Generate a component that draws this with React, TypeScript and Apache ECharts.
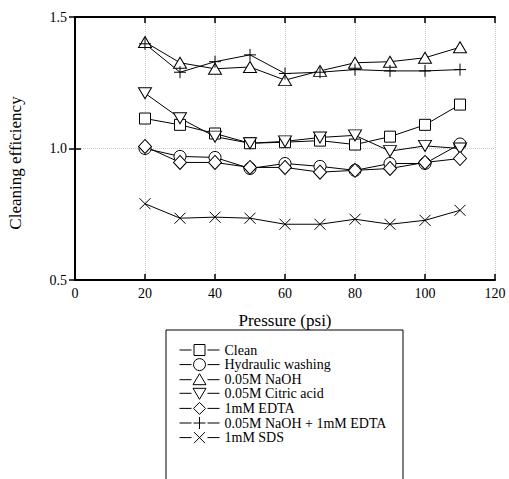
import React, { useEffect, useRef } from "react";
import * as echarts from "echarts";

const pressure = [20, 30, 40, 50, 60, 70, 80, 90, 100, 110];
const clean = [1.114, 1.09, 1.057, 1.02, 1.024, 1.03, 1.015, 1.045, 1.09, 1.167];
const hydraulic = [1.0, 0.97, 0.966, 0.924, 0.943, 0.932, 0.917, 0.943, 0.943, 1.017];
const naoh = [1.405, 1.326, 1.303, 1.31, 1.26, 1.295, 1.326, 1.33, 1.345, 1.385];
const citric = [1.21, 1.115, 1.045, 1.02, 1.027, 1.042, 1.05, 0.99, 1.01, 1.0];
const edta = [1.008, 0.947, 0.947, 0.928, 0.928, 0.91, 0.917, 0.924, 0.947, 0.962];
const naohEdta = [1.398, 1.29, 1.33, 1.356, 1.285, 1.29, 1.3, 1.295, 1.295, 1.3];
const sds = [0.79, 0.735, 0.739, 0.735, 0.712, 0.712, 0.731, 0.712, 0.727, 0.765];

const seriesNames = [
  "Clean",
  "Hydraulic washing",
  "0.05M NaOH",
  "0.05M Citric acid",
  "1mM EDTA",
  "0.05M NaOH + 1mM EDTA",
  "1mM SDS",
];
const seriesValues = [clean, hydraulic, naoh, citric, edta, naohEdta, sds];
const xTicks = [0, 120, 20];
const yTicks = [0.5, 1.5, 0.5];

const FONT = "'Liberation Serif', 'Times New Roman', serif";

// chart markers
const symbols: [string, number | number[]][] = [
  ["rect", 11],
  ["circle", 12],
  ["path://M5,0L10,9L0,9Z", [13, 11]],
  ["path://M0,0L10,0L5,9Z", [13, 11]],
  ["diamond", [13, 14]],
  ["path://M5,0L5,10M0,5L10,5", 12],
  ["path://M0,0L10,10M10,0L0,10", 11],
];

// legend icons: dash - marker - dash
const DASH = "M0,6L12,6M28,6L40,6";
const legendMarks = [
  "M14.5,0.5L25.5,0.5L25.5,11.5L14.5,11.5Z",
  "M26,6A6,6 0 1,1 14,6A6,6 0 1,1 26,6Z",
  "M20,0L26.5,11L13.5,11Z",
  "M13.5,1L26.5,1L20,12Z",
  "M20,0L26,6L20,12L14,6Z",
  "M14,6L26,6M20,0L20,12",
  "M14.5,0.5L25.5,11.5M25.5,0.5L14.5,11.5",
];

export default function App() {
  const ref = useRef<HTMLDivElement>(null);
  useEffect(() => {
    if (!ref.current) return;
    const chart = echarts.init(ref.current, null, { renderer: "svg" });
    const axisCommon = {
      axisLine: { show: true, lineStyle: { color: "#000", width: 2 } },
      axisTick: { show: true, inside: true, length: 6, lineStyle: { color: "#000", width: 1.5 } },
    };
    const series = seriesNames.map((name, i) => ({
      name,
      type: "line",
      data: pressure.map((p, j) => [p, seriesValues[i][j]]),
      symbol: symbols[i][0],
      symbolSize: symbols[i][1],
      showSymbol: true,
      lineStyle: { color: "#000", width: 1 },
      itemStyle: { color: "#fff", borderColor: "#000", borderWidth: 1 },
      emphasis: { disabled: true },
      z: 3,
    }));
    chart.setOption({
      animation: false,
      backgroundColor: "#fff",
      textStyle: { fontFamily: FONT, color: "#000" },
      grid: { left: 75, top: 17, width: 420, height: 263, containLabel: false },
      xAxis: [
        {
          type: "value",
          position: "bottom",
          min: xTicks[0],
          max: xTicks[1],
          interval: xTicks[2],
          ...axisCommon,
          axisLabel: { color: "#000", fontFamily: FONT, fontSize: 14, margin: 6 },
          splitLine: { show: true, lineStyle: { color: "#c8c8c8", type: "dotted", width: 1 } },
          name: "Pressure (psi)",
          nameLocation: "middle",
          nameGap: 32,
          nameTextStyle: { color: "#000", fontFamily: FONT, fontSize: 17, verticalAlign: "top" },
        },
        {
          type: "value",
          position: "top",
          min: xTicks[0],
          max: xTicks[1],
          interval: xTicks[2],
          ...axisCommon,
          axisLabel: { show: false },
          splitLine: { show: false },
        },
      ],
      yAxis: [
        {
          type: "value",
          position: "left",
          min: yTicks[0],
          max: yTicks[1],
          interval: yTicks[2],
          ...axisCommon,
          axisLabel: {
            color: "#000",
            fontFamily: FONT,
            fontSize: 14,
            margin: 8,
            formatter: (v: number) => v.toFixed(1),
          },
          splitLine: { show: true, lineStyle: { color: "#c8c8c8", type: "dotted", width: 1 } },
        },
        {
          type: "value",
          position: "right",
          min: yTicks[0],
          max: yTicks[1],
          interval: yTicks[2],
          ...axisCommon,
          axisLabel: { show: false },
          splitLine: { show: false },
        },
      ],
      legend: {
        orient: "vertical",
        left: 179,
        top: 343,
        itemWidth: 40,
        itemHeight: 12,
        itemGap: 0.6,
        padding: 0,
        selectedMode: false,
        symbolKeepAspect: true,
        itemStyle: { color: "#fff", borderColor: "#000", borderWidth: 1 },
        lineStyle: { color: "#000", width: 1 },
        textStyle: { color: "#000", fontFamily: FONT, fontSize: 14, lineHeight: 14 },
        data: seriesNames.map((name, i) => ({
          name,
          icon: "path://" + DASH + legendMarks[i],
        })),
      },
      graphic: [
        {
          type: "rect",
          shape: { x: 166, y: 330, width: 237, height: 160 },
          style: { fill: "none", stroke: "#000", lineWidth: 1 },
          silent: true,
        },
        {
          type: "text",
          x: 15,
          y: 163,
          rotation: Math.PI / 2,
          style: {
            text: "Cleaning efficiency",
            fontFamily: FONT,
            fontSize: 17,
            fill: "#000",
            align: "center",
            verticalAlign: "middle",
          },
        },
      ],
      series,
    });
    return () => chart.dispose();
  }, []);
  return (
    <div
      ref={ref}
      style={{ position: "absolute", left: 0, top: 0, width: 509, height: 479 }}
    />
  );
}
